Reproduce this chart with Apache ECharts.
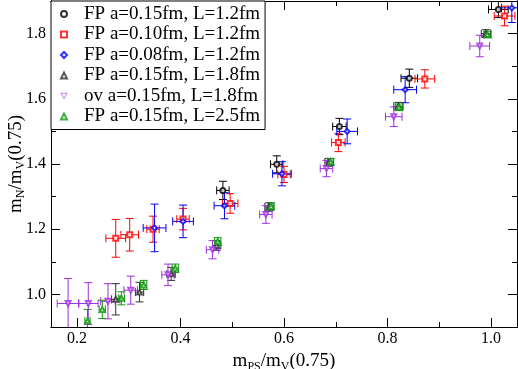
<!DOCTYPE html>
<html>
<head>
<meta charset="utf-8">
<script src="https://cdn.jsdelivr.net/npm/echarts@6/dist/echarts.min.js"></script>
<style>
  html, body { margin: 0; padding: 0; background: #fff; }
  #chart { width: 518px; height: 369px; }
</style>
</head>
<body>
<div id="chart"></div>
<script>
// tick values
const xMajor = [0.2, 0.4, 0.6, 0.8, 1.0];
const xMinor = [0.3, 0.5, 0.7, 0.9];
const yMajor = [1.0, 1.2, 1.4, 1.6, 1.8];
const yMinor = [1.1, 1.3, 1.5, 1.7];

const names = [
  'FP a=0.15fm, L=1.2fm',
  'FP a=0.10fm, L=1.2fm',
  'FP a=0.08fm, L=1.2fm',
  'FP a=0.15fm, L=1.8fm',
  'ov a=0.15fm, L=1.8fm',
  'FP a=0.15fm, L=2.5fm'
];

// FP a=0.15fm, L=1.2fm
const s1X  = [0.482, 0.586, 0.707, 0.842, 1.014];
const s1Y  = [1.319, 1.399, 1.515, 1.663, 1.874];
const s1XE = [0.012, 0.012, 0.013, 0.016, 0.019];
const s1YE = [0.028, 0.026, 0.025, 0.028, 0.025];

// FP a=0.10fm, L=1.2fm
const s2X  = [0.275, 0.302, 0.347, 0.405, 0.496, 0.600, 0.705, 0.872, 1.026];
const s2Y  = [1.172, 1.183, 1.200, 1.231, 1.279, 1.368, 1.466, 1.661, 1.854];
const s2XE = [0.019, 0.017, 0.012, 0.012, 0.015, 0.012, 0.013, 0.019, 0.020];
const s2YE = [0.058, 0.050, 0.040, 0.033, 0.030, 0.025, 0.028, 0.028, 0.030];

// FP a=0.08fm, L=1.2fm
const s3X  = [0.350, 0.405, 0.485, 0.596, 0.722, 0.834, 1.040];
const s3Y  = [1.204, 1.224, 1.272, 1.370, 1.500, 1.628, 1.879];
const s3XE = [0.022, 0.020, 0.020, 0.018, 0.020, 0.022, 0.020];
const s3YE = [0.073, 0.050, 0.040, 0.037, 0.038, 0.040, 0.045];

// FP a=0.15fm, L=1.8fm
const s4X  = [0.275, 0.321, 0.382, 0.470, 0.571, 0.687, 0.821, 0.990];
const s4Y  = [0.985, 1.007, 1.063, 1.150, 1.268, 1.405, 1.577, 1.800];
const s4XE = [0.008, 0.008, 0.008, 0.008, 0.008, 0.008, 0.009, 0.009];
const s4YE = [0.048, 0.030, 0.020, 0.015, 0.013, 0.012, 0.012, 0.012];

// ov a=0.15fm, L=1.8fm
const s5X  = [0.183, 0.222, 0.260, 0.304, 0.376, 0.462, 0.565, 0.682, 0.812, 0.978];
const s5Y  = [0.972, 0.972, 0.979, 1.013, 1.060, 1.137, 1.245, 1.386, 1.545, 1.762];
const s5XE = [0.021, 0.019, 0.014, 0.013, 0.012, 0.012, 0.012, 0.012, 0.016, 0.019];
const s5YE = [0.077, 0.064, 0.054, 0.043, 0.033, 0.028, 0.027, 0.025, 0.030, 0.033];

// FP a=0.15fm, L=2.5fm
const s6X  = [0.2205, 0.249, 0.286, 0.329, 0.390, 0.472, 0.575, 0.690, 0.822, 0.993];
const s6Y  = [0.919, 0.954, 0.988, 1.029, 1.080, 1.162, 1.270, 1.407, 1.574, 1.797];
const s6XE = [0.005, 0.006, 0.006, 0.006, 0.006, 0.006, 0.006, 0.006, 0.007, 0.007];
const s6YE = [0.035, 0.028, 0.020, 0.014, 0.013, 0.012, 0.011, 0.010, 0.010, 0.010];

const font = 'Liberation Serif';
const colors = ['#000000', '#ff0000', '#0000ff', '#303030', '#a030e0', '#109a10'];
const downTri = 'path://M0,0L10,0L5,9Z';
const symbols = ['emptyCircle', 'emptyRect', 'emptyDiamond', 'emptyTriangle', 'emptyTriangle', 'emptyTriangle'];
const rotates = [0, 0, 0, 0, 180, 0];
const sets = [
  [s1X, s1Y, s1XE, s1YE],
  [s2X, s2Y, s2XE, s2YE],
  [s3X, s3Y, s3XE, s3YE],
  [s4X, s4Y, s4XE, s4YE],
  [s5X, s5Y, s5XE, s5YE],
  [s6X, s6Y, s6XE, s6YE]
];

function rows(set) {
  return set[0].map((x, i) => [x, set[1][i], set[2][i], set[3][i]]);
}

function errorBars(params, api) {
  const x = api.value(0), y = api.value(1), xe = api.value(2), ye = api.value(3);
  const c = api.coord([x, y]);
  const l = api.coord([x - xe, y]);
  const r = api.coord([x + xe, y]);
  const t = api.coord([x, y + ye]);
  const b = api.coord([x, y - ye]);
  const cap = 4;
  const style = { stroke: api.visual('color'), lineWidth: 1 };
  const seg = (x1, y1, x2, y2) => ({ type: 'line', shape: { x1, y1, x2, y2 }, style });
  return {
    type: 'group',
    children: [
      seg(l[0], c[1], r[0], c[1]),
      seg(c[0], t[1], c[0], b[1]),
      seg(l[0], c[1] - cap, l[0], c[1] + cap),
      seg(r[0], c[1] - cap, r[0], c[1] + cap),
      seg(c[0] - cap, t[1], c[0] + cap, t[1]),
      seg(c[0] - cap, b[1], c[0] + cap, b[1])
    ]
  };
}

const series = [];
sets.forEach((set, k) => {
  series.push({
    name: names[k],
    type: 'scatter',
    data: rows(set),
    encode: { x: 0, y: 1 },
    symbol: symbols[k],
    symbolRotate: rotates[k],
    symbolSize: 5,
    itemStyle: { color: colors[k], borderWidth: 1 },
    z: 5
  });
});
sets.forEach((set, k) => {
  series.push({
    name: names[k],
    type: 'custom',
    data: rows(set),
    encode: { x: 0, y: 1 },
    renderItem: errorBars,
    clip: true,
    itemStyle: { color: colors[k] },
    z: 3
  });
});

const fmt = v => Number(v).toFixed(1);
const lineStyle = { color: '#000', width: 1 };
const nameStyle = {
  fontFamily: font, fontSize: 19, color: '#000',
  rich: { sub: { fontFamily: font, fontSize: 12, color: '#000', verticalAlign: 'bottom', padding: [10, 0, 0, 0] } }
};

function xAx(pos, ticks, len, main) {
  return {
    type: 'value', position: pos, min: 0.15, max: 1.05,
    axisLine: { show: true, onZero: false, lineStyle },
    axisTick: { show: true, inside: true, length: len, customValues: ticks, lineStyle },
    axisLabel: main ? { show: true, customValues: ticks, formatter: fmt, margin: 4,
      fontFamily: font, fontSize: 16, color: '#000' } : { show: false },
    splitLine: { show: false },
    name: main ? 'm{sub|PS}/m{sub|V}(0.75)' : '',
    nameLocation: 'middle',
    nameGap: 18,
    nameTextStyle: nameStyle
  };
}

function yAx(pos, ticks, len, main) {
  return {
    type: 'value', position: pos, min: 0.9, max: 1.9,
    axisLine: { show: true, onZero: false, lineStyle },
    axisTick: { show: true, inside: true, length: len, customValues: ticks, lineStyle },
    axisLabel: main ? { show: true, customValues: ticks, formatter: fmt, margin: 5,
      fontFamily: font, fontSize: 16, color: '#000' } : { show: false },
    splitLine: { show: false },
    name: main ? 'm{sub|N}/m{sub|V}(0.75)' : '',
    nameLocation: 'middle',
    nameGap: 24,
    nameMoveOverlap: false,
    nameTextStyle: nameStyle
  };
}

const legendData = names.map((n, k) => rotates[k] === 180
  ? { name: n, icon: downTri, itemStyle: { color: '#fff', borderColor: colors[k], borderWidth: 0.8 } }
  : { name: n });

const chart = echarts.init(document.getElementById('chart'), null, { renderer: 'canvas' });
chart.setOption({
  animation: false,
  backgroundColor: '#fff',
  grid: { left: 51, right: 1, top: 1, bottom: 42, containLabel: false, outerBoundsMode: 'none' },
  xAxis: [
    xAx('bottom', xMajor, 9, true),
    xAx('top', xMajor, 9, false),
    xAx('bottom', xMinor, 5, false),
    xAx('top', xMinor, 5, false)
  ],
  yAxis: [
    yAx('left', yMajor, 9, true),
    yAx('right', yMajor, 9, false),
    yAx('left', yMinor, 5, false),
    yAx('right', yMinor, 5, false)
  ],
  legend: {
    data: legendData,
    orient: 'vertical',
    left: 51,
    top: 1,
    padding: [3, 5, 3, 9],
    itemWidth: 6,
    itemHeight: 6,
    itemGap: 0.5,
    backgroundColor: '#fff',
    borderColor: '#000',
    borderWidth: 1,
    borderRadius: 0,
    itemStyle: { borderWidth: 0.8 },
    textStyle: { fontFamily: font, fontSize: 19, color: '#000', lineHeight: 20, padding: [0, 0, 0, 12] }
  },
  series: series
});
</script>
</body>
</html>
